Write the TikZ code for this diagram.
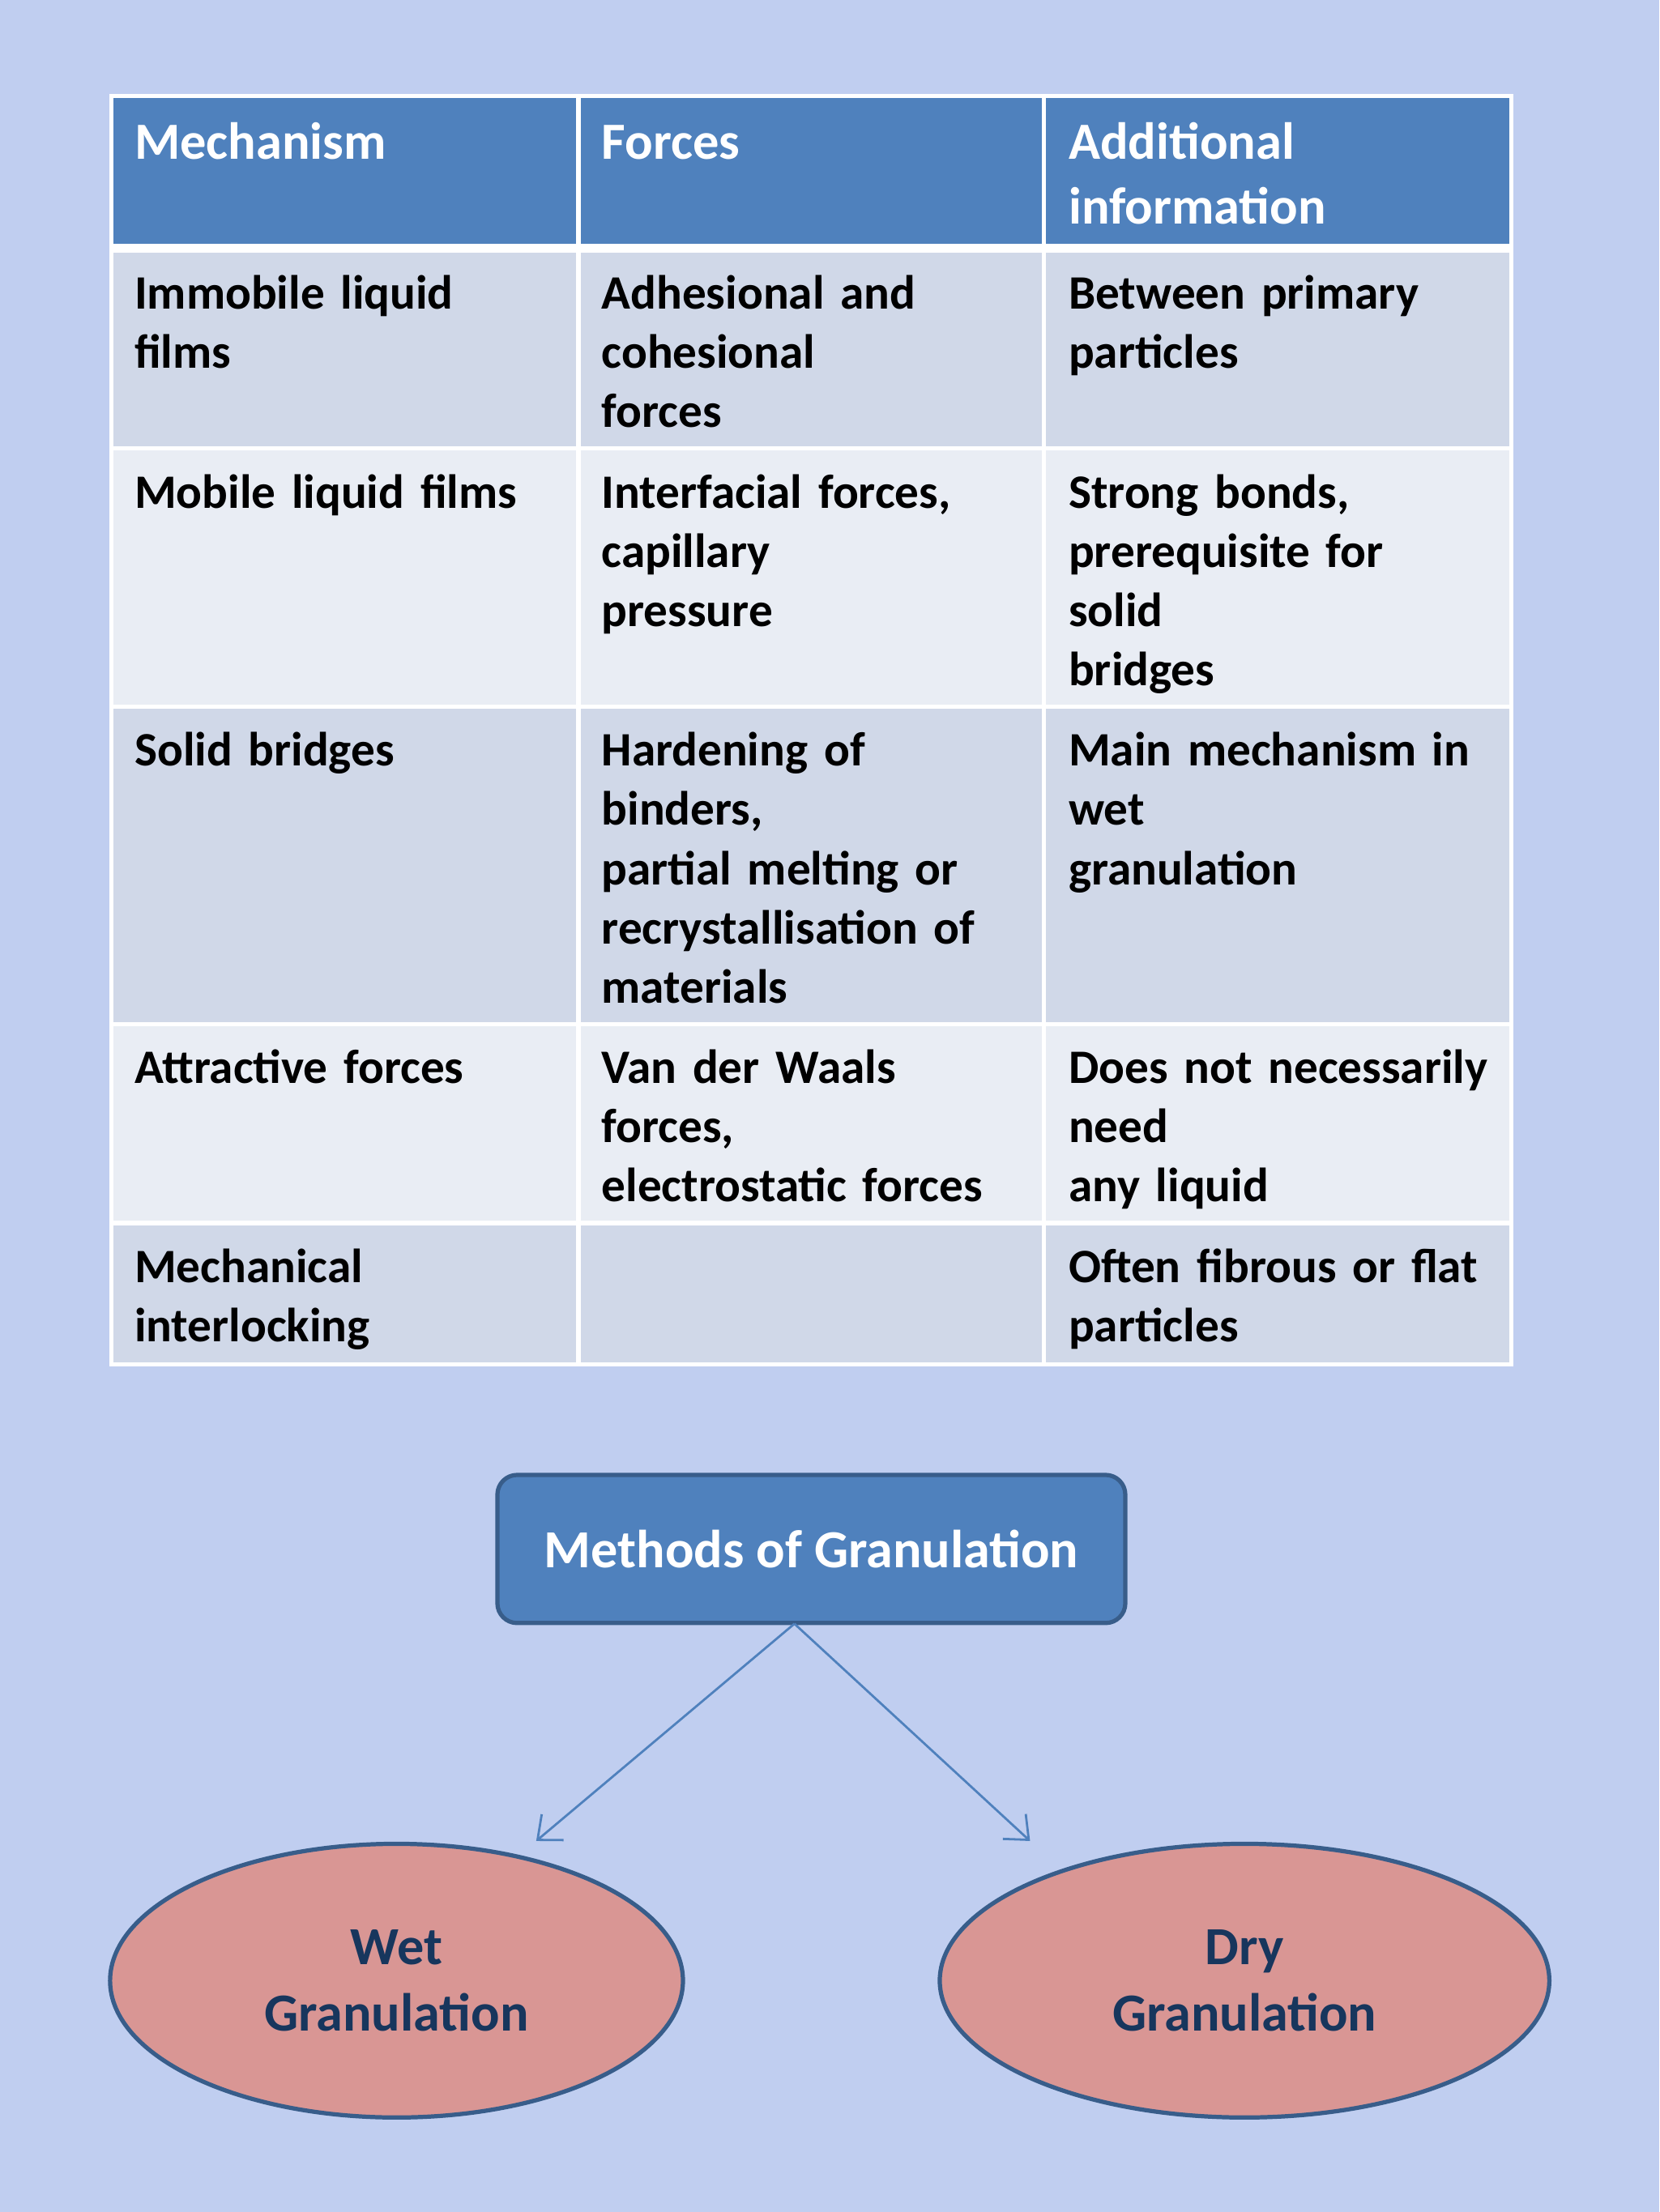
\documentclass[tikz,border=0pt]{standalone}
\usepackage{fontspec}
\setmainfont{Carlito}
\usetikzlibrary{shapes.geometric,arrows.meta}
\definecolor{bg}{RGB}{192,206,240}
\definecolor{hdr}{RGB}{79,129,189}
\definecolor{rowA}{RGB}{208,216,232}
\definecolor{rowB}{RGB}{233,237,244}
\definecolor{edge}{RGB}{56,93,138}
\definecolor{pinkf}{RGB}{217,150,148}
\definecolor{navy}{RGB}{23,54,93}
\begin{document}
\begin{tikzpicture}[x=0.5pt,y=-0.5pt,
 cell/.style={anchor=base west,align=left,text width=150pt,font=\bfseries\fontsize{17}{21}\selectfont,inner sep=0pt},
 hcell/.style={cell,text=white,font=\bfseries\fontsize{18.5}{23}\selectfont},
 ell/.style={ellipse,fill=pinkf,draw=edge,line width=1.5pt,font=\bfseries\fontsize{19}{23.5}\selectfont,text=navy,align=center},
 arr/.style={draw=hdr,line width=0.8pt,-{Straight Barb[length=7pt,width=12pt]}}]
\fill[bg] (0,0) rectangle (1176,1568);
\useasboundingbox (0,0) rectangle (1176,1568);
\fill[hdr] (79,68) rectangle (1071,176);
\fill[rowA] (79,176) rectangle (1071,318);
\fill[rowB] (79,318) rectangle (1071,501);
\fill[rowA] (79,501) rectangle (1071,726);
\fill[rowB] (79,726) rectangle (1071,867);
\fill[rowA] (79,867) rectangle (1071,967);
\draw[white,line width=1.5pt] (79,68) rectangle (1071,967);
\foreach \x in {410,740} \draw[white,line width=1.5pt] (\x,68) -- (\x,967);
\foreach \y in {318,501,726,867} \draw[white,line width=1.5pt] (79,\y) -- (1071,\y);
\draw[white,line width=3pt] (79,176) -- (1071,176);
\node[hcell] (h1) at (95,113) {Mechanism};
\node[hcell] (h2) at (426,113) {Forces};
\node[hcell] (h3) at (757,113) {Additional\\information};
\node[cell] (a1) at (95,219) {Immobile liquid\\films};
\node[cell] (a2) at (426,219) {Adhesional and\\cohesional\\forces};
\node[cell] (a3) at (757,219) {Between primary\\particles};
\node[cell] (b1) at (95,360) {Mobile liquid films};
\node[cell] (b2) at (426,360) {Interfacial forces,\\capillary\\pressure};
\node[cell] (b3) at (757,360) {Strong bonds,\\prerequisite for\\solid\\bridges};
\node[cell] (c1) at (95,543) {Solid bridges};
\node[cell] (c2) at (426,543) {Hardening of\\binders,\\partial melting or\\recrystallisation of\\materials};
\node[cell] (c3) at (757,543) {Main mechanism in\\wet\\granulation};
\node[cell] (d1) at (95,768) {Attractive forces};
\node[cell] (d2) at (426,768) {Van der Waals\\forces,\\electrostatic forces};
\node[cell] (d3) at (757,768) {Does not necessarily\\need\\any liquid};
\node[cell] (e1) at (95,909) {Mechanical\\interlocking};
\node[cell] (e3) at (757,909) {Often fibrous or flat\\particles};
\node[draw=edge,fill=hdr,line width=1.5pt,rounded corners=7pt,minimum width=222.5pt,minimum height=52.5pt,text=white,font=\bfseries\fontsize{19}{23}\selectfont] (m) at (575,1098) {Methods of Granulation};
\node[ell,minimum width=203pt,minimum height=97pt] (w) at (281,1404) {Wet\\Granulation};
\node[ell,minimum width=216pt,minimum height=97pt] (d) at (882,1404) {Dry\\Granulation};
\coordinate (s) at (563,1151);
\coordinate (tw) at (380,1305);
\coordinate (td) at (730,1305);
\draw[arr] (s) -- (tw);
\draw[arr] (s) -- (td);
\end{tikzpicture}
\end{document}
